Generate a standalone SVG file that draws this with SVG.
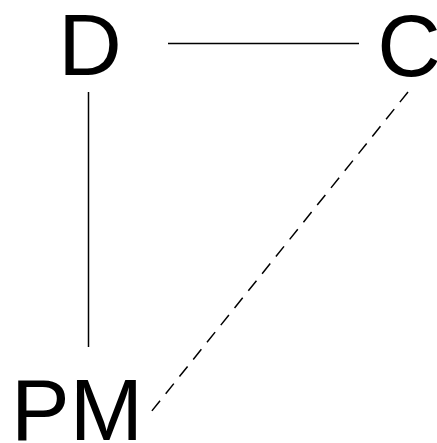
<svg xmlns="http://www.w3.org/2000/svg" width="437" height="443" viewBox="0 0 437 443">
<style>
.lbl{font-family:"Liberation Sans",Arial,sans-serif;font-size:88px;fill:#000}
.ln{stroke:#000;stroke-width:1.5;fill:none}
.dash{stroke-dasharray:13 9}
</style>
<rect width="437" height="443" fill="#fff"/>
<g id="connectors">
<line class="ln" x1="168" y1="43.5" x2="359" y2="43.5"/>
<line class="ln" x1="88.5" y1="92" x2="88.5" y2="347"/>
<line class="ln dash" x1="408" y1="92" x2="151" y2="412"/>
</g>
<g id="D"><text class="lbl" x="90" y="75" text-anchor="middle">D</text></g>
<g id="C"><text class="lbl" x="409" y="76" text-anchor="middle">C</text></g>
<g id="PM"><text class="lbl" x="11" y="440">PM</text></g>
</svg>
